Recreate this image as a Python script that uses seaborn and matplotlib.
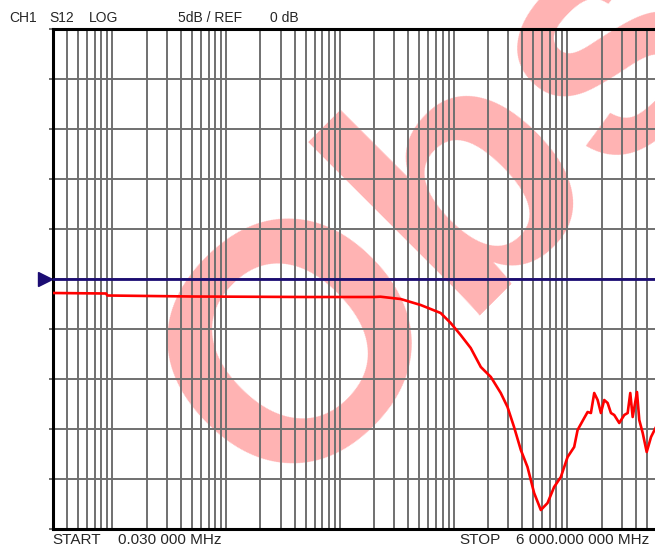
import numpy as np
import pandas as pd
import matplotlib
matplotlib.use("Agg")
import matplotlib.pyplot as plt
import matplotlib.transforms as mtransforms
import seaborn as sns

# Trace data (frequency in MHz, S12 in dB)
freq_mhz = [0.03, 0.088, 0.09, 0.5, 5, 20, 22.7, 34.1, 51.2, 76.7, 94.0, 115, 141,
            173, 212, 259, 297, 339, 389, 445, 509, 583, 668, 763, 874, 1002,
            1145, 1227, 1403, 1503, 1607, 1718, 1841, 1967, 2104, 2254, 2410,
            2576, 2852, 3156, 3381, 3564, 3742, 4083, 4277, 4584, 4971, 5425, 6000]
s12_db = [-1.4, -1.45, -1.65, -1.75, -1.8, -1.8, -1.77, -2.0, -2.6, -3.4, -4.4, -5.6, -6.9,
          -8.8, -9.8, -11.4, -12.8, -14.8, -17.1, -18.8, -21.4, -23.1, -22.4, -20.8, -19.8, -17.8,
          -16.8, -15.1, -13.9, -13.3, -13.4, -11.4, -12.1, -13.4, -12.1, -12.4, -13.4,
          -13.6, -14.4, -13.6, -13.4, -11.4, -13.8, -11.3, -14.1, -15.4, -17.3, -15.8, -14.8]

start_mhz = 0.03
stop_mhz = 6000
ref_db = 0
scale_db = 5
n_div = 10

trace = pd.DataFrame({"freq": freq_mhz, "db": s12_db})

sns.set_theme(style="white")
plt.rcParams["font.family"] = ["Liberation Sans", "DejaVu Sans"]

fig = plt.figure(figsize=(6.55, 5.5), dpi=100)
fig.patch.set_facecolor("white")
ax = fig.add_axes([53 / 655, 21 / 550, 603 / 655, 500 / 550])
ax.set_facecolor("none")

ax.set_xscale("log")
ax.set_xlim(start_mhz, stop_mhz)
half = scale_db * n_div / 2
ax.set_ylim(ref_db - half, ref_db + half)

# log grid: 1..9 per decade
grid_f = [m * 10.0 ** e for e in range(-2, 4) for m in range(1, 10)]
grid_f = [f for f in grid_f if start_mhz < f < stop_mhz]
ax.set_xticks(grid_f)
ax.xaxis.set_minor_locator(matplotlib.ticker.NullLocator())
ax.set_yticks(np.arange(ref_db - half, ref_db + half + 1, scale_db))
ax.set_xticklabels([])
ax.set_yticklabels([])
ax.tick_params(axis="x", length=0)
ax.tick_params(axis="y", length=3, width=1.4, color="#707070", left=True)
ax.grid(True, color="#707070", linewidth=1.4)
ax.set_axisbelow(True)

for side in ["left", "top", "bottom"]:
    ax.spines[side].set_color("black")
    ax.spines[side].set_linewidth(2.2)
ax.spines["right"].set_visible(False)

# reference line and marker
ax.axhline(ref_db, color="#1b0c73", linewidth=2, zorder=3)
trans = mtransforms.blended_transform_factory(ax.transAxes, ax.transData)
ax.plot([-0.0125], [ref_db], marker=">", markersize=10, color="#1b0c73",
        transform=trans, clip_on=False, zorder=4)

sns.lineplot(data=trace, x="freq", y="db", ax=ax, color="red", linewidth=1.9,
             estimator=None, zorder=5)
ax.set_xlabel("")
ax.set_ylabel("")

# watermark
fig.text(445 / 655, 1 - 213 / 550, "Obs", fontsize=242, fontweight="bold",
         color="red", alpha=0.3, rotation=45, ha="center", va="center",
         rotation_mode="anchor", zorder=-1)

# header / footer annotations
hy = 1 - 18 / 550
fig.text(9 / 655, hy, "CH1", fontsize=10, va="center")
fig.text(49 / 655, hy, "S12", fontsize=10, va="center")
fig.text(89 / 655, hy, "LOG", fontsize=10, va="center")
fig.text(178 / 655, hy, "5dB / REF", fontsize=10, va="center")
fig.text(270 / 655, hy, "0 dB", fontsize=10, va="center")

fy = 1 - 540 / 550
fig.text(52 / 655, fy, "START", fontsize=11, va="center")
fig.text(118 / 655, fy, "0.030 000 MHz", fontsize=11, va="center")
fig.text(459 / 655, fy, "STOP", fontsize=11, va="center")
fig.text(516 / 655, fy, "6 000.000 000 MHz", fontsize=11, va="center")

fig.savefig("out.png", dpi=100, facecolor="white")
